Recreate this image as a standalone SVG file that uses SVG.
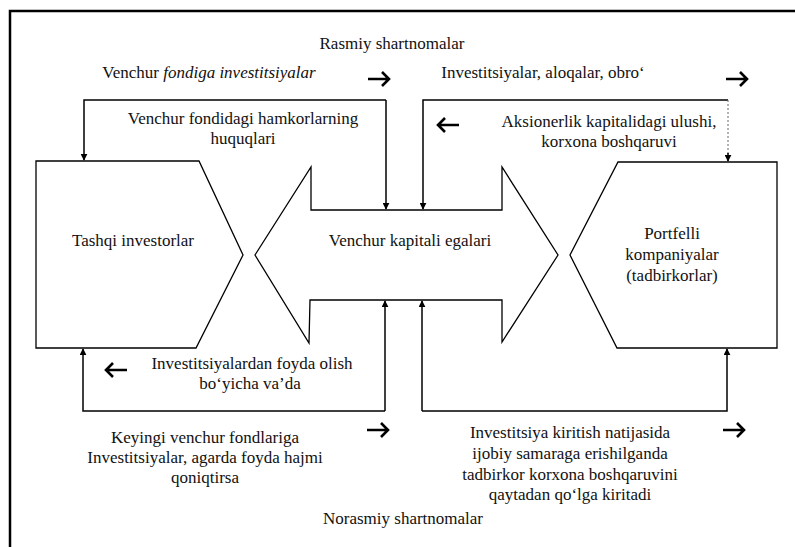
<svg xmlns="http://www.w3.org/2000/svg" width="795" height="547" viewBox="0 0 795 547">
<defs>
<marker id="ah" viewBox="0 0 10 10" refX="9" refY="5" markerWidth="7" markerHeight="7" markerUnits="userSpaceOnUse" orient="auto">
<path d="M0,0 L10,5 L0,10 Z" fill="#000"/>
</marker>
<path id="rarr" d="M-11,0 H10 M3,-7 L10,0 L3,7"/>
<path id="larr" d="M11,0 H-10 M-3,-7 L-10,0 L-3,7"/>
</defs>
<style>
text{font-family:"Liberation Serif","Times New Roman",serif;font-size:17px;fill:#111;text-anchor:middle}
.it{font-style:italic}
.shape{fill:#fff;stroke:#000;stroke-width:1.3;stroke-linejoin:miter}
.conn{fill:none;stroke:#000;stroke-width:1.5}
.faint{fill:none;stroke:#666;stroke-width:1;stroke-dasharray:2 2}
.arr{fill:none;stroke:#000;stroke-width:2.6;stroke-linecap:butt;stroke-linejoin:miter}
.frame{fill:none;stroke:#000;stroke-width:2.5}
</style>
<rect width="795" height="547" fill="#fff"/>
<path class="frame" d="M10,547 V11 H795"/>

<g id="tashqi">
<path class="shape" d="M36,161 L199,161 L243,255 L196,348 L36,348 Z"/>
<text x="133" y="246">Tashqi investorlar</text>
</g>
<g id="venchur">
<path class="shape" d="M255,255 L311,167 L311,210 L502,210 L502,167 L558,255 L502,342 L502,300 L310,300 L309,343 Z"/>
<text x="410" y="246">Venchur kapitali egalari</text>
</g>
<g id="portfelli">
<path class="shape" d="M618,162 L777,162 L777,348 L617,348 L570,255 Z"/>
<text x="672" y="239">Portfelli</text>
<text x="672" y="260">kompaniyalar</text>
<text x="672" y="281">(tadbirkorlar)</text>
</g>

<g id="connectors">
<path class="conn" d="M386,100 H84 V160" marker-end="url(#ah)"/>
<path class="conn" d="M386,100 V209" marker-end="url(#ah)"/>
<path class="conn" d="M728,100 H423 V209" marker-end="url(#ah)"/>
<path class="faint" d="M728,100 V154"/>
<path class="conn" d="M728,153 V161" marker-end="url(#ah)"/>
<path class="conn" d="M385,411 V301" marker-end="url(#ah)"/>
<path class="conn" d="M385,411 H83 V349" marker-end="url(#ah)"/>
<path class="conn" d="M422,411 V301" marker-end="url(#ah)"/>
<path class="conn" d="M422,411 H727 V349" marker-end="url(#ah)"/>
</g>

<g id="labels">
<text x="392" y="49">Rasmiy shartnomalar</text>
<text x="209" y="78">Venchur <tspan class="it">fondiga investitsiyalar</tspan></text>
<use href="#rarr" class="arr" x="379" y="79"/>
<text x="543" y="78">Investitsiyalar, aloqalar, obro‘</text>
<use href="#rarr" class="arr" x="737" y="79"/>
<text x="243" y="124">Venchur fondidagi hamkorlarning</text>
<text x="243" y="144">huquqlari</text>
<use href="#larr" class="arr" x="448" y="125"/>
<text x="609" y="127">Aksionerlik kapitalidagi ulushi,</text>
<text x="609" y="147">korxona boshqaruvi</text>
<text x="252" y="369">Investitsiyalardan foyda olish</text>
<text x="250" y="389">bo‘yicha va’da</text>
<use href="#larr" class="arr" x="116" y="370"/>
<text x="205" y="443">Keyingi venchur fondlariga</text>
<text x="205" y="463">Investitsiyalar, agarda foyda hajmi</text>
<text x="205" y="483">qoniqtirsa</text>
<use href="#rarr" class="arr" x="378" y="430"/>
<text x="570" y="438">Investitsiya kiritish natijasida</text>
<text x="570" y="459">ijobiy samaraga erishilganda</text>
<text x="570" y="480">tadbirkor korxona boshqaruvini</text>
<text x="570" y="500">qaytadan qo‘lga kiritadi</text>
<use href="#rarr" class="arr" x="734" y="430"/>
<text x="403" y="524">Norasmiy shartnomalar</text>
</g>
</svg>
